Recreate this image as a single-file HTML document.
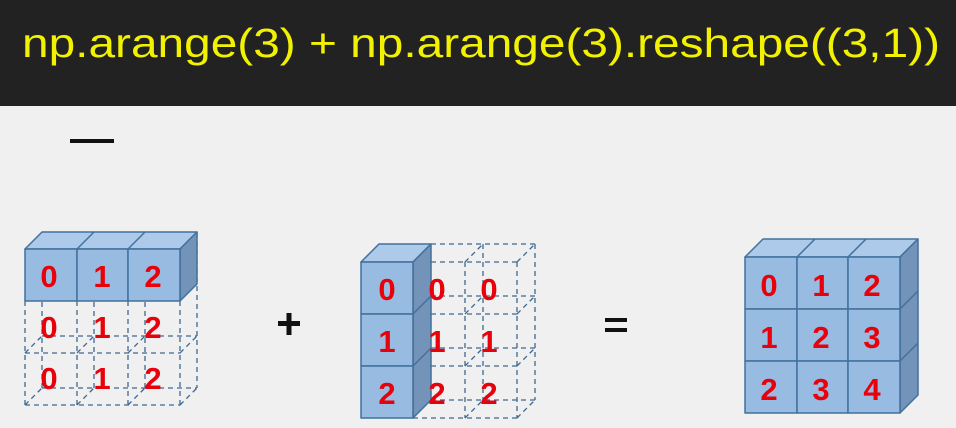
<!DOCTYPE html>
<html><head><meta charset="utf-8"><style>
html,body{margin:0;padding:0;background:#f0f0f0;}
svg{display:block}
</style></head><body>
<svg width="956" height="428" viewBox="0 0 956 428" xmlns="http://www.w3.org/2000/svg">
<rect width="956" height="428" fill="#f0f0f0"/>
<rect width="956" height="106" fill="#222222"/>
<text x="22" y="57" font-family="Liberation Sans, sans-serif" font-size="41" fill="#f2f200" textLength="918" lengthAdjust="spacingAndGlyphs">np.arange(3) + np.arange(3).reshape((3,1))</text>
<rect x="70" y="139" width="44" height="4" fill="#111"/>

<g fill="none" stroke="#3f6890" stroke-width="1.3" stroke-dasharray="5,4">
<path d="M25 301V405M77 301V405M128 301V405M180 301V405M25 353H180M25 405H180
M42 284V388M94 284V388M145 284V388M197 232V388M42 336H197M42 388H197
M25 353L42 336M77 353L94 336M128 353L145 336M180 353L197 336
M25 405L42 388M77 405L94 388M128 405L145 388M180 405L197 388"/>
<path d="M465 262V418M517 262V418M413 262H517M413 314H517M413 366H517M413 418H517
M483 244V400M535 244V400M431 244H535M431 296H535M431 348H535M431 400H535
M465 262L483 244M517 262L535 244M465 314L483 296M517 314L535 296
M465 366L483 348M517 366L535 348M465 418L483 400M517 418L535 400"/>
</g>

<g stroke="#41719c" stroke-width="1.5" stroke-linejoin="round">
<path d="M25 249L42 232H94L77 249Z M77 249L94 232H145L128 249Z M128 249L145 232H197L180 249Z" fill="#adcaeb"/>
<path d="M180 249L197 232V284L180 301Z" fill="#7393b9"/>
<rect x="25" y="249" width="52" height="52" fill="#98bbe2"/>
<rect x="77" y="249" width="51" height="52" fill="#98bbe2"/>
<rect x="128" y="249" width="52" height="52" fill="#98bbe2"/>
<path d="M361 262L379 244H431L413 262Z" fill="#adcaeb"/>
<path d="M413 262L431 244V296L413 314Z M413 314L431 296V348L413 366Z M413 366L431 348V400L413 418Z" fill="#7393b9"/>
<rect x="361" y="262" width="52" height="52" fill="#98bbe2"/>
<rect x="361" y="314" width="52" height="52" fill="#98bbe2"/>
<rect x="361" y="366" width="52" height="52" fill="#98bbe2"/>
<path d="M745 257L763 239H815L797 257Z M797 257L815 239H866L848 257Z M848 257L866 239H918L900 257Z" fill="#adcaeb"/>
<path d="M900 257L918 239V291L900 309Z M900 309L918 291V343L900 361Z M900 361L918 343V395L900 413Z" fill="#7393b9"/>
<g fill="#98bbe2">
<rect x="745" y="257" width="52" height="52"/><rect x="797" y="257" width="51" height="52"/><rect x="848" y="257" width="52" height="52"/>
<rect x="745" y="309" width="52" height="52"/><rect x="797" y="309" width="51" height="52"/><rect x="848" y="309" width="52" height="52"/>
<rect x="745" y="361" width="52" height="52"/><rect x="797" y="361" width="51" height="52"/><rect x="848" y="361" width="52" height="52"/>
</g>
</g>

<g font-family="Liberation Sans, sans-serif" font-weight="bold" font-size="31" fill="#e8000a" text-anchor="middle">
<text x="49" y="287">0</text><text x="102" y="287">1</text><text x="153" y="287">2</text>
<text x="49" y="338">0</text><text x="102" y="338">1</text><text x="153" y="338">2</text>
<text x="49" y="389">0</text><text x="102" y="389">1</text><text x="153" y="389">2</text>

<text x="387" y="300">0</text><text x="437" y="300">0</text><text x="489" y="300">0</text>
<text x="387" y="352">1</text><text x="437" y="352">1</text><text x="489" y="352">1</text>
<text x="387" y="404">2</text><text x="437" y="404">2</text><text x="489" y="404">2</text>

<text x="769" y="296">0</text><text x="821" y="296">1</text><text x="872" y="296">2</text>
<text x="769" y="348">1</text><text x="821" y="348">2</text><text x="872" y="348">3</text>
<text x="769" y="400">2</text><text x="821" y="400">3</text><text x="872" y="400">4</text>
</g>

<g fill="#111">
<rect x="278" y="321" width="22" height="5"/><rect x="286.5" y="313" width="5" height="22"/>
<rect x="605" y="318" width="22" height="4"/><rect x="605" y="328" width="22" height="4"/>
</g>
</svg>
</body></html>
